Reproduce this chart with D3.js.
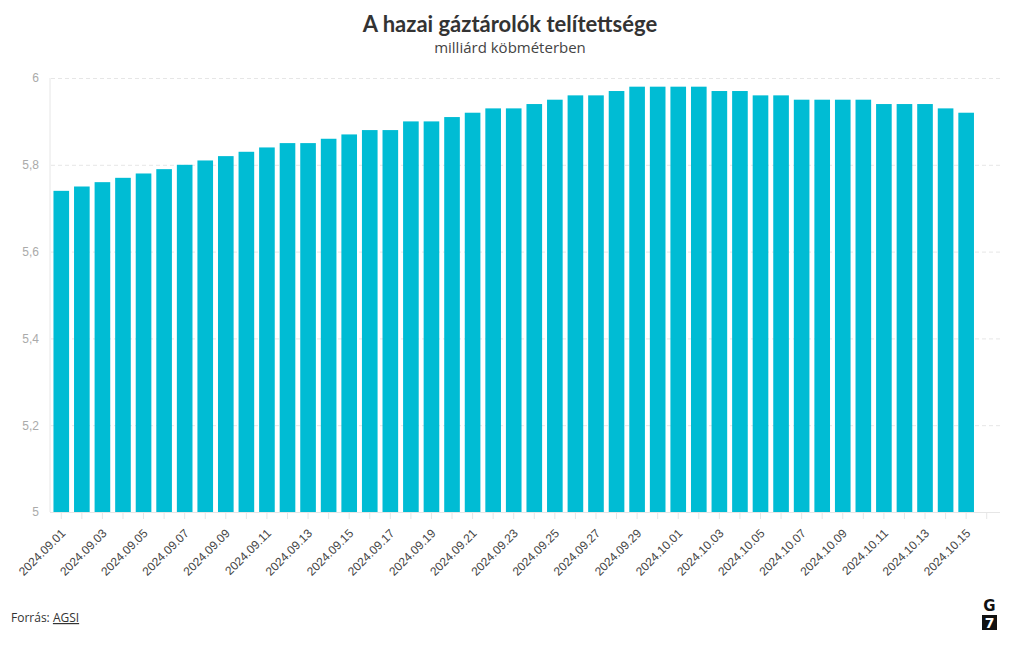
<!DOCTYPE html>
<html>
<head>
<meta charset="utf-8">
<script src="https://cdn.jsdelivr.net/npm/d3@7"></script>
<style>
  body { margin: 0; background: #fff; }
  svg { display: block; font-family: "Source Sans Pro", "Open Sans", "Noto Sans", sans-serif; }
</style>
</head>
<body>
<svg id="chart" width="1020" height="650"></svg>
<script>
const dates = [
  "2024.09.01","2024.09.02","2024.09.03","2024.09.04","2024.09.05","2024.09.06","2024.09.07","2024.09.08",
  "2024.09.09","2024.09.10","2024.09.11","2024.09.12","2024.09.13","2024.09.14","2024.09.15","2024.09.16",
  "2024.09.17","2024.09.18","2024.09.19","2024.09.20","2024.09.21","2024.09.22","2024.09.23","2024.09.24",
  "2024.09.25","2024.09.26","2024.09.27","2024.09.28","2024.09.29","2024.09.30","2024.10.01","2024.10.02",
  "2024.10.03","2024.10.04","2024.10.05","2024.10.06","2024.10.07","2024.10.08","2024.10.09","2024.10.10",
  "2024.10.11","2024.10.12","2024.10.13","2024.10.14","2024.10.15","2024.10.16"
];
const values = [
  5.74, 5.75, 5.76, 5.77, 5.78, 5.79, 5.80, 5.81,
  5.82, 5.83, 5.84, 5.85, 5.85, 5.86, 5.87, 5.88,
  5.88, 5.90, 5.90, 5.91, 5.92, 5.93, 5.93, 5.94,
  5.95, 5.96, 5.96, 5.97, 5.98, 5.98, 5.98, 5.98,
  5.97, 5.97, 5.96, 5.96, 5.95, 5.95, 5.95, 5.95,
  5.94, 5.94, 5.94, 5.93, 5.92, null
];
const yTicks = [5, 5.2, 5.4, 5.6, 5.8, 6];
const title = "A hazai gáztárolók telítettsége";
const subtitle = "milliárd köbméterben";

const svg = d3.select("#chart");
const mLeft = 51, mRight = 997, mTop = 78, mBottom = 512;

const x = d3.scaleBand().domain(dates).range([mLeft, mRight]).paddingInner(0.24).paddingOuter(0.12);
const y = d3.scaleLinear().domain([5, 6]).range([mBottom, mTop]);

// title
svg.append("text").attr("x", 510).attr("y", 32).attr("text-anchor", "middle")
  .attr("font-family", "Lato, 'Open Sans', sans-serif")
  .attr("font-size", 22).attr("font-weight", 700).attr("fill", "#333").text(title);
svg.append("text").attr("x", 510).attr("y", 53).attr("text-anchor", "middle")
  .attr("font-size", 15).attr("fill", "#444").text(subtitle);

// grid
const yAxis = d3.axisLeft(y).tickValues(yTicks).tickSize(-(1000 - mLeft)).tickPadding(12)
  .tickFormat(d => String(d).replace(".", ","));
const gy = svg.append("g").attr("transform", `translate(${mLeft},0)`).call(yAxis);
gy.select(".domain").remove();
gy.selectAll(".tick line").attr("stroke", "#e6e6e6").attr("stroke-dasharray", "4,3")
  .filter(d => d === 5).remove();
gy.selectAll(".tick text").attr("fill", "#aaa").attr("font-size", 12);

// left vertical line
svg.append("line").attr("x1", mLeft - 1).attr("x2", mLeft - 1).attr("y1", mTop).attr("y2", mBottom)
  .attr("stroke", "#e6e6e6");

// bars
svg.append("g").selectAll("rect")
  .data(dates.map((d, i) => ({ d, v: values[i] })).filter(o => o.v != null))
  .join("rect")
  .attr("x", o => x(o.d)).attr("width", x.bandwidth())
  .attr("y", o => y(o.v)).attr("height", o => y(5) - y(o.v))
  .attr("fill", "#00bcd4");

// x axis
const xAxis = d3.axisBottom(x).tickSize(7).tickPadding(4)
  .tickFormat((d, i) => i % 2 === 0 ? d : "");
const gx = svg.append("g").attr("transform", `translate(0,${mBottom})`).call(xAxis);
gx.select(".domain").attr("stroke", "#e6e6e6").attr("d", `M${mLeft - 1},0.5H1000`);
gx.selectAll(".tick line").attr("stroke", "#e6e6e6");
gx.selectAll(".tick text").attr("fill", "#444").attr("font-size", 12)
  .attr("text-anchor", "end").attr("y", 0).attr("dy", 0)
  .attr("transform", "translate(5,22) rotate(-45)");

// footer
const f = svg.append("text").attr("x", 11).attr("y", 622).attr("font-size", 12).attr("fill", "#333");
f.append("tspan").text("Forrás: ");
f.append("tspan").attr("text-decoration", "underline").text("AGSI");

// G7 logo
const logo = svg.append("g").attr("transform", "translate(982,598)");
logo.append("text").attr("x", 7.5).attr("y", 13).attr("text-anchor", "middle")
  .attr("font-family", "DejaVu Sans, sans-serif").attr("font-weight", 700).attr("font-size", 15)
  .attr("fill", "#111").text("G");
logo.append("rect").attr("x", 0).attr("y", 17).attr("width", 15).attr("height", 15).attr("fill", "#111");
logo.append("text").attr("x", 7.5).attr("y", 29.5).attr("text-anchor", "middle")
  .attr("font-family", "DejaVu Sans, sans-serif").attr("font-weight", 700).attr("font-size", 14)
  .attr("fill", "#fff").text("7");
</script>
</body>
</html>
